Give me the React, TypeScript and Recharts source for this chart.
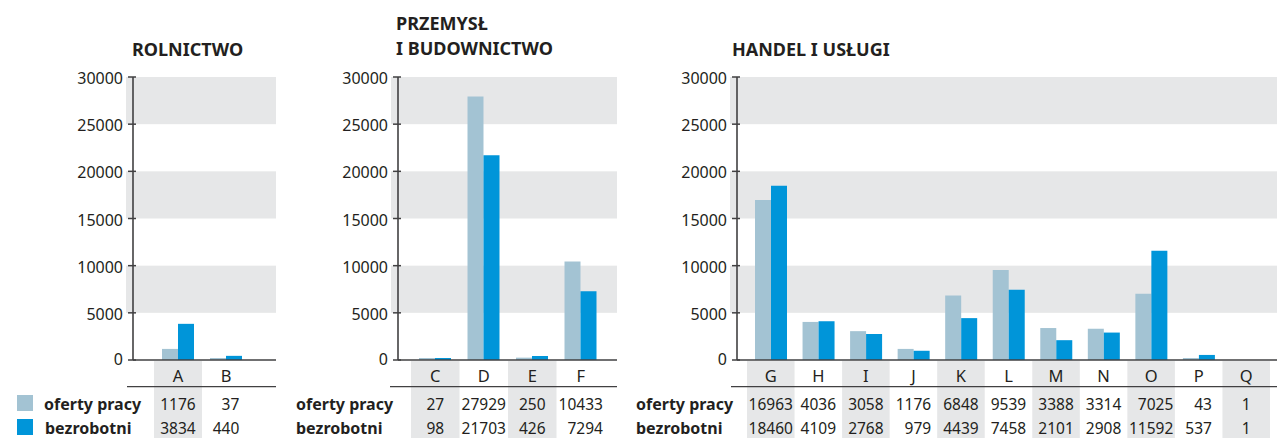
import React from 'react';
import { BarChart, Bar, XAxis, YAxis, ReferenceArea } from 'recharts';

// ---------------------------------------------------------------------------
// Data
// ---------------------------------------------------------------------------

const yTicks = [0, 5000, 10000, 15000, 20000, 25000, 30000];
const bandRanges: [number, number][] = [
  [5000, 10000],
  [15000, 20000],
  [25000, 30000],
];

const rolnCats = ['A', 'B'];
const rolnOferty = [1176, 37];
const rolnBezrob = [3834, 440];

const przCats = ['C', 'D', 'E', 'F'];
const przOferty = [27, 27929, 250, 10433];
const przBezrob = [98, 21703, 426, 7294];

const handelCats = ['G', 'H', 'I', 'J', 'K', 'L', 'M', 'N', 'O', 'P', 'Q'];
const handelOferty = [16963, 4036, 3058, 1176, 6848, 9539, 3388, 3314, 7025, 43, 1];
const handelBezrob = [18460, 4109, 2768, 979, 4439, 7458, 2101, 2908, 11592, 537, 1];

// ---------------------------------------------------------------------------
// Styles
// ---------------------------------------------------------------------------

const FONT = "'Noto Sans', sans-serif";
const TEXT = '#231f20';
const AXIS = '#414042';
const BAND = '#e6e7e8';
const LIGHT = '#a3c3d3';
const DARK = '#0095d9';
const NUM_SIZE = 15.5;
const DIGIT_W = NUM_SIZE * 0.572;

function buildRows(cats: string[], oferty: number[], bezrob: number[]) {
  return cats.map((c, i) => ({ cat: c, oferty: oferty[i], bezrobotni: bezrob[i] }));
}

// tiny values still show as a sliver, like in the printed chart
const minBar = (v: number) => (v >= 10 ? 2 : 0);

// y axis tick: label + short tick crossing the axis line
function YTick(props: any) {
  const { x, y, payload } = props;
  const v = payload.value;
  return (
    <g>
      <line x1={x - 5} x2={x + 3} y1={y} y2={y} stroke={AXIS} strokeWidth={1.5} />
      <text
        x={x - 10}
        y={y + (v === 0 ? 4.5 : 7)}
        textAnchor="end"
        fontSize={16}
        fill={TEXT}
        fontFamily={FONT}
      >
        {v}
      </text>
    </g>
  );
}

// x axis tick: category letter, shading, and the two table values below
function makeTableTick(rows: any[], bw: number) {
  return function TableTick(props: any) {
    const { x, y, payload, index } = props;
    const row = rows[index];
    const len = Math.max(String(row.oferty).length, String(row.bezrobotni).length);
    const right = x + (len * DIGIT_W) / 2;
    return (
      <g>
        {index % 2 === 0 && (
          <rect x={x - bw / 2} y={y + 1} width={bw} height={80} fill={BAND} />
        )}
        <text x={x} y={y + 22} textAnchor="middle" fontSize={16.5} fill={TEXT} fontFamily={FONT}>
          {payload.value}
        </text>
        <text x={right} y={y + 49.5} textAnchor="end" fontSize={NUM_SIZE} fill={TEXT} fontFamily={FONT}>
          {row.oferty}
        </text>
        <text x={right} y={y + 74} textAnchor="end" fontSize={NUM_SIZE} fill={TEXT} fontFamily={FONT}>
          {row.bezrobotni}
        </text>
      </g>
    );
  };
}

// horizontal background band: full plot width, reaching a little left of the axis
function makeBandShape(plotLeft: number, plotRight: number) {
  return function BandShape(props: any) {
    const { y, height } = props;
    return <rect x={plotLeft - 7} y={y} width={plotRight - plotLeft + 7} height={height} fill={BAND} />;
  };
}

interface PanelProps {
  rows: any[];
  left: number;
  width: number;
  axisWidth: number;
  padLeft: number;
  padRight: number;
}

function Panel({ rows, left, width, axisWidth, padLeft, padRight }: PanelProps) {
  const plotW = width - axisWidth;
  const bw = (plotW - padLeft - padRight) / rows.length;
  const bandShape = makeBandShape(axisWidth, width);
  return (
    <div style={{ position: 'absolute', left, top: 0, width, height: 438 }}>
      <BarChart
        width={width}
        height={438}
        data={rows}
        margin={{ top: 77, right: 0, bottom: 0, left: 0 }}
        barGap={0}
        barSize={16}
      >
        {bandRanges.map(([a, b]) => (
          <ReferenceArea key={a} y1={a} y2={b} shape={bandShape} ifOverflow="visible" />
        ))}
        <XAxis
          dataKey="cat"
          height={78}
          interval={0}
          padding={{ left: padLeft, right: padRight }}
          tickLine={false}
          tickSize={0}
          tickMargin={0}
          axisLine={{ stroke: AXIS, strokeWidth: 1.6 }}
          tick={makeTableTick(rows, bw)}
        />
        <YAxis
          width={axisWidth}
          domain={[0, 30000]}
          ticks={yTicks}
          interval={0}
          tickLine={false}
          tickSize={0}
          tickMargin={0}
          axisLine={{ stroke: AXIS, strokeWidth: 1.6 }}
          tick={<YTick />}
        />
        <Bar dataKey="oferty" fill={LIGHT} minPointSize={minBar} isAnimationActive={false} />
        <Bar dataKey="bezrobotni" fill={DARK} minPointSize={minBar} isAnimationActive={false} />
      </BarChart>
    </div>
  );
}

export default function App() {
  const rolnRows = buildRows(rolnCats, rolnOferty, rolnBezrob);
  const przRows = buildRows(przCats, przOferty, przBezrob);
  const handelRows = buildRows(handelCats, handelOferty, handelBezrob);

  const titleStyle = { fontSize: 18, fontWeight: 700, fill: TEXT, fontFamily: FONT } as const;
  const rowStyle = { fontSize: 16, fontWeight: 700, fill: TEXT, fontFamily: FONT } as const;

  return (
    <div
      style={{
        position: 'absolute',
        left: 0,
        top: 0,
        width: 1277,
        height: 438,
        background: '#fff',
        overflow: 'hidden',
      }}
    >
      <Panel rows={rolnRows} left={0} width={276} axisWidth={133} padLeft={21} padRight={26} />
      <Panel rows={przRows} left={280} width={337} axisWidth={118} padLeft={13} padRight={12} />
      <Panel rows={handelRows} left={620} width={657} axisWidth={117} padLeft={10} padRight={7} />

      <svg
        width={1277}
        height={438}
        style={{ position: 'absolute', left: 0, top: 0, pointerEvents: 'none' }}
      >
        <text x={132} y={56} style={titleStyle}>ROLNICTWO</text>
        <text x={396} y={30} style={titleStyle}>PRZEMYSŁ</text>
        <text x={396} y={55} style={titleStyle}>I BUDOWNICTWO</text>
        <text x={732} y={56} style={titleStyle}>HANDEL I USŁUGI</text>

        {/* table separators */}
        <line x1={127} x2={276} y1={386.7} y2={386.7} stroke={AXIS} strokeWidth={1.3} />
        <line x1={390} x2={617} y1={386.7} y2={386.7} stroke={AXIS} strokeWidth={1.3} />
        <line x1={731} x2={1277} y1={386.7} y2={386.7} stroke={AXIS} strokeWidth={1.3} />

        {/* legend */}
        <rect x={17} y={395} width={16} height={16} fill={LIGHT} />
        <rect x={17} y={419} width={16} height={16} fill={DARK} />
        <text x={44} y={409.5} style={rowStyle}>oferty pracy</text>
        <text x={45} y={434} style={rowStyle}>bezrobotni</text>

        <text x={296} y={409.5} style={rowStyle}>oferty pracy</text>
        <text x={296} y={434} style={rowStyle}>bezrobotni</text>

        <text x={636} y={409.5} style={rowStyle}>oferty pracy</text>
        <text x={636} y={434} style={rowStyle}>bezrobotni</text>
      </svg>
    </div>
  );
}
